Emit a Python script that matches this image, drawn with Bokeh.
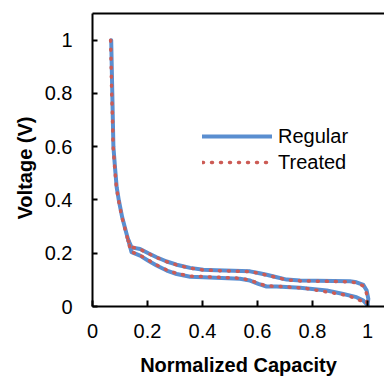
from bokeh.plotting import figure
from bokeh.models import Range1d, FixedTicker, LinearAxis, Legend, LegendItem, Title
from bokeh.embed import file_html
from bokeh.resources import INLINE

# ---- data ----
reg_dis_x = [0.068, 0.070, 0.072, 0.074, 0.076, 0.082, 0.088, 0.096, 0.108, 0.124, 0.142,
             0.173, 0.203, 0.233, 0.270, 0.306, 0.355, 0.403, 0.536, 0.573, 0.603, 0.633,
             0.670, 0.755, 0.852, 0.912, 0.960, 0.985, 1.000]
reg_dis_y = [1.0, 0.9, 0.8, 0.7, 0.6, 0.52, 0.447, 0.397, 0.335, 0.272, 0.204,
             0.191, 0.172, 0.154, 0.135, 0.122, 0.112, 0.110, 0.104, 0.0975, 0.085, 0.075,
             0.075, 0.070, 0.060, 0.047, 0.035, 0.022, 0.005]
reg_chg_x = [1.000, 1.003, 0.997, 0.985, 0.960, 0.936, 0.755, 0.706, 0.670, 0.633, 0.603,
             0.573, 0.450, 0.403, 0.355, 0.306, 0.270, 0.233, 0.203, 0.173, 0.142, 0.130]
reg_chg_y = [0.005, 0.029, 0.060, 0.081, 0.091, 0.095, 0.0975, 0.101, 0.110, 0.119, 0.126,
             0.132, 0.136, 0.138, 0.145, 0.157, 0.169, 0.185, 0.200, 0.216, 0.222, 0.250]

trt_dis_x = [0.066, 0.068, 0.070, 0.073, 0.075, 0.081, 0.087, 0.095, 0.107, 0.123, 0.140,
             0.173, 0.203, 0.233, 0.270, 0.306, 0.355, 0.403, 0.536, 0.573, 0.603, 0.633,
             0.670, 0.769, 0.837, 0.906, 0.942, 0.970, 0.997]
trt_dis_y = [1.0, 0.9, 0.8, 0.7, 0.6, 0.52, 0.447, 0.397, 0.335, 0.272, 0.206,
             0.192, 0.174, 0.156, 0.137, 0.124, 0.114, 0.112, 0.106, 0.099, 0.087, 0.077,
             0.076, 0.069, 0.057, 0.046, 0.036, 0.024, 0.015]
trt_chg_x = [0.997, 1.000, 0.996, 0.983, 0.958, 0.934, 0.755, 0.706, 0.670, 0.633, 0.603,
             0.573, 0.450, 0.403, 0.355, 0.306, 0.270, 0.233, 0.203, 0.173, 0.142, 0.128]
trt_chg_y = [0.015, 0.030, 0.051, 0.078, 0.089, 0.093, 0.096, 0.100, 0.109, 0.118, 0.125,
             0.131, 0.135, 0.137, 0.144, 0.156, 0.168, 0.184, 0.199, 0.215, 0.223, 0.250]

x_ticks = [0, 0.2, 0.4, 0.6, 0.8, 1]
x_tick_labels = ["0", "0.2", "0.4", "0.6", "0.8", "1"]
y_ticks = [0, 0.2, 0.4, 0.6, 0.8, 1]
y_tick_labels = ["0", "0.2", "0.4", "0.6", "0.8", "1"]
series_names = ["Regular", "Treated"]
x_title = "Normalized Capacity"
y_title = "Voltage (V)"

FONT = "Liberation Sans"
BLUE = "#5A8ED0"
RED = "#CC5B55"
FS = "20px"

p = figure(width=384, height=379, output_backend="svg", toolbar_location=None,
           x_range=Range1d(0, 1.0618), y_range=Range1d(0, 1.1),
           min_border_left=92, min_border_right=0, min_border_top=13, min_border_bottom=73)
p.outline_line_color = None
p.xgrid.visible = False
p.ygrid.visible = False
p.background_fill_color = "white"
p.border_fill_color = "white"

for ax, ticks, labels, tin in ((p.xaxis[0], x_ticks, x_tick_labels, 6), (p.yaxis[0], y_ticks, y_tick_labels, 5)):
    ax.ticker = FixedTicker(ticks=ticks)
    ax.major_label_overrides = {t: l for t, l in zip(ticks, labels)}
    ax.axis_line_width = 2
    ax.axis_line_color = "black"
    ax.major_tick_in = tin
    ax.major_tick_out = 0
    ax.major_tick_line_width = 2
    ax.major_tick_line_color = "black"
    ax.minor_tick_line_color = None
    ax.major_label_text_font = FONT
    ax.major_label_text_font_size = FS
    ax.major_label_text_color = "black"
p.xaxis[0].major_label_standoff = 17
p.yaxis[0].major_label_standoff = 20

xa = p.xaxis[0]
xa.axis_label = x_title
xa.axis_label_standoff = 13
xa.axis_label_text_font = FONT
xa.axis_label_text_font_size = FS
xa.axis_label_text_font_style = "bold"
xa.axis_label_text_color = "black"

top = LinearAxis(ticker=FixedTicker(ticks=[]), axis_line_width=2, axis_line_color="black",
                 major_tick_in=0, major_tick_out=0, major_label_standoff=0,
                 major_label_text_font_size="0px", minor_tick_line_color=None,
                 major_tick_line_color=None)
p.add_layout(top, "above")

r1 = p.line(reg_dis_x, reg_dis_y, line_color=BLUE, line_width=4, line_join="round", line_cap="round")
p.line(reg_chg_x, reg_chg_y, line_color=BLUE, line_width=4, line_join="round", line_cap="round")
r2 = p.line(trt_dis_x, trt_dis_y, line_color=RED, line_width=3.5, line_dash="1 8", line_join="round", line_cap="round")
p.line(trt_chg_x, trt_chg_y, line_color=RED, line_width=3.5, line_dash="1 8", line_join="round", line_cap="round")

legend = Legend(items=[LegendItem(label=series_names[0], renderers=[r1]),
                       LegendItem(label=series_names[1], renderers=[r2])],
                location=(110, 131), padding=0, margin=0, spacing=0,
                glyph_width=70, glyph_height=26, label_height=26, label_standoff=6,
                border_line_color=None, background_fill_alpha=0,
                label_text_font=FONT, label_text_font_size=FS, label_text_color="black")
p.add_layout(legend, "center")

p.add_layout(Title(text=y_title, align="left", offset=87, standoff=12,
                   text_font=FONT, text_font_size=FS, text_font_style="bold",
                   text_color="black"), "left")

open("out.html", "w").write(file_html(p, INLINE))
